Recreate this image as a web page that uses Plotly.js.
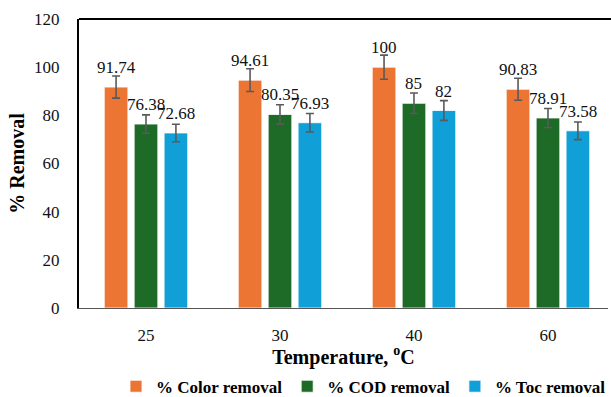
<!DOCTYPE html>
<html>
<head>
<meta charset="utf-8">
<script src="https://cdn.plot.ly/plotly-3.0.1.min.js"></script>
<style>html,body{margin:0;padding:0;background:#fff;overflow:hidden}</style>
</head>
<body>
<div id="chart" style="width:611px;height:397px"></div>
<script>
var categories = ["25", "30", "40", "60"];
var colorRemoval = [91.74, 94.61, 100, 90.83];
var codRemoval = [76.38, 80.35, 85, 78.91];
var tocRemoval = [72.68, 76.93, 82, 73.58];
var seriesNames = ["% Color removal", "% COD removal", "% Toc removal"];
var seriesColors = ["#ED7533", "#1D6B26", "#109FD6"];
var errorPercent = 5;

var seriesValues = [colorRemoval, codRemoval, tocRemoval];
var FONT = "Liberation Serif";
var bargap = 0.33;

var traces = seriesValues.map(function (vals, i) {
  return {
    type: "bar",
    name: seriesNames[i],
    x: categories.map(function (c, j) { return j; }),
    y: vals,
    marker: { color: seriesColors[i], line: { color: "rgba(255,255,255,0.8)", width: 1 } },
    error_y: { type: "percent", value: errorPercent, color: "#5a5a5a", thickness: 1.6, width: 4 },
    hoverinfo: "skip"
  };
});

var slot = (1 - bargap) / seriesValues.length;
var annotations = [];
seriesValues.forEach(function (vals, i) {
  vals.forEach(function (v, j) {
    annotations.push({
      x: j + (i - (seriesValues.length - 1) / 2) * slot,
      y: v,
      xref: "x", yref: "y",
      text: String(v),
      showarrow: false,
      yanchor: "bottom",
      yshift: 8,
      font: { family: FONT, size: 17, color: "#111" }
    });
  });
});

var layout = {
  width: 611, height: 397,
  margin: { l: 79, r: 3, t: 19, b: 88.5 },
  paper_bgcolor: "#fff", plot_bgcolor: "#fff",
  barmode: "group",
  bargap: bargap,
  bargroupgap: 0.21,
  font: { family: FONT, color: "#000", size: 17 },
  xaxis: {
    type: "linear",
    range: [-0.5, 3.448],
    tickmode: "array",
    tickvals: categories.map(function (c, j) { return j; }),
    ticktext: categories,
    showgrid: false, zeroline: false,
    showline: true, linecolor: "#555", linewidth: 1.2,
    ticks: "",
    ticklabelstandoff: 11,
    tickfont: { family: FONT, size: 17, color: "#111" },
    title: { text: "Temperature, <sup>o</sup>C", font: { family: FONT, size: 20, color: "#000", weight: "bold" }, standoff: 10 }
  },
  yaxis: {
    range: [0, 120],
    dtick: 20,
    showgrid: false, zeroline: false,
    showline: true, linecolor: "#000", linewidth: 2.2,
    ticks: "",
    ticklabelstandoff: 14,
    tickfont: { family: FONT, size: 17, color: "#111" },
    title: { text: "% Removal", font: { family: FONT, size: 20, color: "#000", weight: "bold" }, standoff: 4 }
  },
  shapes: [{
    type: "line", xref: "paper", yref: "paper",
    x0: 0, x1: 1.006, y0: 1, y1: 1,
    line: { color: "#000", width: 2.2 }
  }],
  legend: {
    orientation: "h",
    xref: "paper", yref: "container",
    x: 0.55, xanchor: "center",
    y: 0.026, yanchor: "middle",
    maxheight: 80,
    font: { family: FONT, size: 17, color: "#000", weight: "bold" },
    itemwidth: 30,
    traceorder: "normal"
  },
  showlegend: true,
  annotations: annotations
};

Plotly.newPlot("chart", traces, layout, { staticPlot: true, displayModeBar: false });
</script>
</body>
</html>
